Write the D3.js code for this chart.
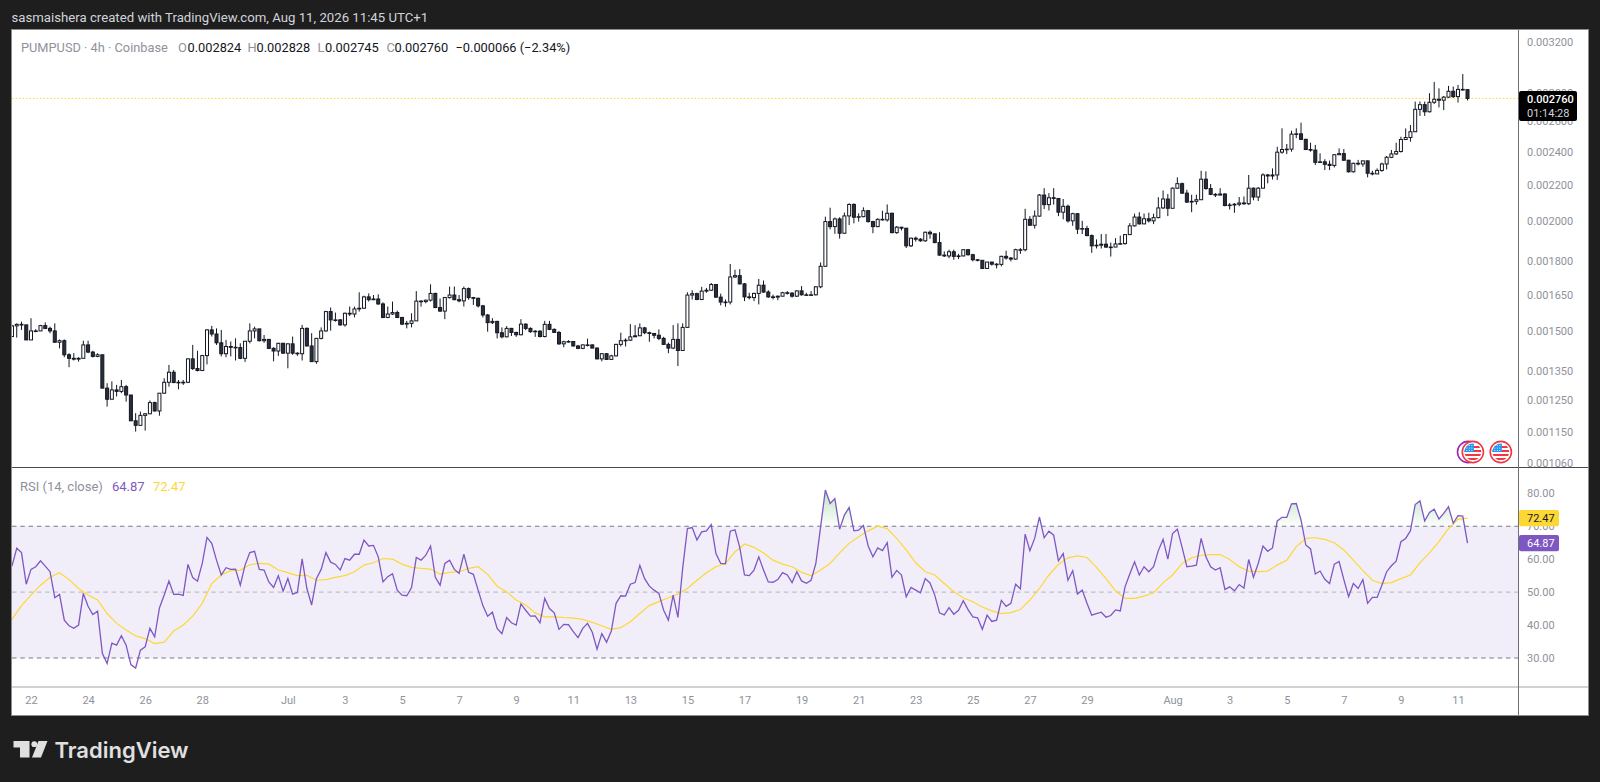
<!DOCTYPE html>
<html>
<head>
<meta charset="utf-8">
<title>PUMPUSD 4h</title>
<script src="https://cdn.jsdelivr.net/npm/d3@7"></script>
<style>
    html, body { margin: 0; padding: 0; background: #1e1e1e; overflow: hidden; }
    text { font-family: Roboto, "Noto Sans", sans-serif; }
</style>
</head>
<body>
<div id="chart"></div>
<script>
// 4h bars, price in millionths of a dollar
const firstOpen = 1478;
const closes = [
    1520,1526,1524,1465,1500,1500,1521,1510,1500,1456,1462,1409,1396,1393,1396,1446,1419,1403,1409,1291,
    1254,1285,1280,1296,1268,1185,1171,1202,1207,1243,1216,1274,1311,1346,1310,1311,1311,1394,1359,1352,
    1406,1504,1488,1454,1413,1440,1437,1436,1396,1460,1500,1508,1462,1467,1433,1423,1452,1415,1450,1415,
    1413,1510,1442,1384,1471,1500,1578,1544,1544,1524,1571,
    1568,1589,1592,1640,1628,1631,1610,1554,1568,1574,1554,1527,1530,1540,1622,1620,1626,1655,1595,1580,
    1637,1648,1628,1623,1676,1637,1634,1602,1564,1533,1538,1493,1477,1510,1494,1485,1527,1510,1497,1499,
    1478,1526,1506,1494,1450,1458,1459,1442,1433,1446,1446,1434,1394,1413,1392,1405,1448,1462,1464,1477,
    1481,1512,1493,1490,1483,1471,1448,1434,1467,1425,1514,1648,
    1654,1629,1665,1669,1694,1639,1618,1618,1728,1734,1697,1640,1637,1655,1691,1661,1640,1639,1643,1658,
    1656,1643,1666,1649,1649,1649,1684,1777,1998,1972,2012,1938,2028,2090,2021,2024,2056,1998,1972,2010,
    2007,2042,1941,1969,1964,1875,1913,1908,1900,1943,1935,1891,1830,1826,1846,1824,1826,1856,1832,1808,
    1805,1767,1797,1787,1786,1824,1816,1811,1856,1856,2010,
    1979,2027,2142,2089,2127,2123,2048,2080,2002,2040,1959,1962,1926,1875,1878,1883,1869,1869,1884,1886,
    1931,1976,2022,1986,2013,2002,2019,2071,2120,2069,2181,2207,2153,2103,2107,2116,2233,2179,2146,2142,
    2148,2084,2087,2091,2098,2094,2181,2131,2181,2258,2252,2258,2397,2414,2416,2513,2515,2479,2414,2410,2334,
    2337,2322,2315,2381,2388,2347,2277,2328,2324,2343,2268,2264,2285,2324,2365,2386,2401,2478,2491,2529,
    2682,2715,2665,2732,2754,2747,2769,2812,2773,2826,2824,2760
];
const highs = [
    1524,1530,1537,1524,1551,1507,1524,1534,1517,1530,1467,1467,1415,1415,1400,1462,1462,1424,1415,1409,
    1308,1314,1302,1319,1302,1268,1209,1214,1209,1250,1246,1274,1325,1372,1354,1319,1319,1396,1446,1424,
    1409,1507,1520,1510,1504,1465,1459,1471,1452,1460,1530,1517,1507,1484,1465,1437,1454,1454,1452,1478,
    1418,1524,1514,1491,1471,1514,1581,1595,1574,1547,1574,
    1599,1599,1660,1645,1655,1648,1651,1617,1599,1620,1582,1554,1540,1571,1665,1626,1628,1695,1658,1633,
    1640,1685,1685,1648,1685,1681,1640,1637,1606,1568,1551,1540,1514,1519,1512,1497,1547,1530,1514,1503,
    1503,1540,1540,1510,1500,1462,1464,1461,1446,1448,1470,1448,1437,1415,1415,1409,1450,1493,1471,1527,
    1523,1530,1516,1497,1490,1506,1477,1455,1523,1530,1530,1660,
    1669,1658,1684,1679,1701,1694,1654,1629,1788,1761,1764,1701,1658,1658,1719,1712,1669,1650,1646,1662,
    1665,1661,1669,1687,1658,1665,1687,1795,2024,2072,2019,2021,2046,2096,2096,2042,2074,2060,2002,2015,
    2056,2090,2046,1975,1969,1958,1916,1921,1913,1946,1952,1935,1943,1848,1856,1856,1836,1859,1859,1836,
    1808,1805,1797,1795,1792,1827,1851,1821,1861,1864,2066,
    2027,2057,2148,2181,2153,2181,2125,2120,2089,2045,2041,2002,1976,1932,1907,1934,1934,1891,1913,1926,
    1934,1990,2040,2048,2041,2045,2040,2130,2168,2148,2185,2244,2213,2172,2144,2144,2283,2279,2205,2153,
    2181,2153,2098,2098,2131,2134,2258,2185,2187,2268,2264,2297,2431,2552,2449,2536,2552,2590,2483,2457,2443,
    2390,2353,2345,2385,2421,2417,2349,2332,2349,2345,2345,2283,2297,2332,2373,2411,2457,2496,2551,2574,
    2737,2737,2737,2798,2882,2834,2778,2852,2847,2859,2942,2828
];
const lows = [
    1478,1474,1504,1465,1465,1495,1504,1507,1491,1456,1433,1400,1364,1388,1384,1396,1415,1399,1400,1291,
    1230,1254,1263,1274,1246,1185,1152,1172,1155,1207,1214,1201,1272,1296,1308,1287,1302,1308,1354,1349,
    1352,1374,1478,1446,1403,1400,1403,1388,1393,1383,1452,1471,1459,1454,1430,1385,1405,1413,1360,1409,
    1405,1388,1440,1384,1376,1467,1497,1501,1537,1520,1517,
    1560,1554,1578,1589,1620,1626,1606,1551,1551,1564,1551,1523,1510,1514,1541,1599,1613,1620,1592,1577,
    1547,1633,1626,1617,1599,1628,1606,1595,1554,1497,1527,1471,1471,1475,1480,1477,1483,1503,1493,1477,
    1475,1475,1503,1493,1446,1437,1455,1440,1430,1430,1440,1434,1392,1385,1390,1394,1403,1440,1440,1461,
    1480,1480,1487,1458,1471,1464,1446,1415,1430,1368,1425,1512,
    1629,1626,1626,1658,1666,1636,1604,1598,1608,1723,1694,1622,1629,1622,1608,1658,1636,1629,1626,1643,
    1650,1637,1640,1646,1646,1646,1646,1678,1780,1958,1935,1911,1936,1980,1989,1998,2021,1993,1938,1969,
    2004,1998,1938,1935,1952,1864,1869,1896,1895,1895,1910,1888,1827,1821,1815,1808,1811,1824,1827,1800,
    1800,1764,1767,1780,1767,1777,1808,1800,1808,1836,1848,
    1976,1962,2024,2065,2057,2089,2027,2010,1993,1976,1934,1934,1923,1841,1862,1862,1865,1823,1869,1881,
    1881,1929,1972,1983,1985,1993,1985,2016,2065,2027,2069,2177,2148,2098,2048,2089,2116,2172,2142,2131,
    2140,2080,2062,2045,2080,2087,2087,2113,2109,2181,2209,2231,2229,2387,2385,2400,2487,2474,2410,2400,2318,
    2332,2287,2287,2303,2384,2343,2272,2272,2315,2307,2244,2256,2270,2277,2291,2360,2380,2395,2474,2464,
    2527,2636,2636,2660,2720,2696,2677,2763,2763,2730,2817,2745
];

// RSI for each bar
const rsiValues = [
    57.9,63.3,62.0,52.4,56.9,57.7,59.5,57.9,56.2,48.3,49.3,41.5,39.8,39.0,40.0,49.6,45.7,43.2,44.2,31.4,
    28.3,34.5,33.9,36.8,33.9,28.0,26.9,32.4,33.4,39.0,36.4,45.2,49.1,53.4,49.3,49.4,49.0,58.4,54.4,53.3,
    58.7,66.6,64.8,59.7,55.2,57.4,56.9,57.0,52.1,58.2,62.0,62.4,56.9,56.7,53.1,51.4,55.0,50.3,54.1,49.4,
    49.9,60.1,51.1,46.1,54.1,56.9,62.0,59.1,58.4,56.7,60.2,59.7,61.5,61.5,65.8,64.0,64.2,60.7,53.1,54.7,
    55.6,50.6,
    49.1,48.9,51.4,60.5,59.7,61.2,64.0,54.5,52.1,58.7,59.7,56.9,55.7,61.5,56.0,55.4,50.6,45.9,42.7,43.9,
    39.0,37.4,42.3,40.7,40.0,46.4,44.5,42.7,42.8,40.7,48.1,45.0,43.7,38.7,40.2,40.1,38.0,36.2,39.0,40.5,
    37.8,32.7,37.4,34.8,38.2,46.6,48.9,48.8,52.4,52.9,58.1,54.1,51.8,50.6,49.6,44.5,41.5,49.1,42.3,57.2,
    69.3,69.6,65.8,68.3,68.6,70.5,61.7,58.7,58.6,68.5,68.9,63.6,55.2,55.0,56.7,60.7,56.7,53.1,53.0,53.8,
    55.9,55.2,52.9,56.2,
    53.4,52.7,53.6,58.7,69.8,81.0,76.9,78.4,69.1,73.4,75.7,68.6,68.8,70.2,64.0,60.7,63.4,62.6,65.0,54.5,
    56.6,55.2,48.6,51.4,50.6,49.8,54.1,52.8,49.1,43.7,43.1,45.3,43.3,44.5,47.4,44.7,42.5,42.2,38.7,43.0,
    41.1,41.5,47.5,45.7,46.6,52.4,51.0,67.6,62.6,66.3,72.8,66.5,68.5,67.3,59.5,61.7,53.6,56.5,49.4,50.6,
    46.6,43.0,43.5,43.9,42.4,42.9,44.6,44.3,51.6,55.5,59.2,55.2,57.7,56.2,57.7,62.6,66.0,60.0,67.8,69.1,
    63.6,57.7,57.9,58.2,66.3,
    60.7,57.7,56.7,57.4,50.8,51.6,50.4,52.3,51.2,59.9,54.5,58.7,64.0,62.4,63.4,71.6,72.7,72.7,76.8,76.9,
    71.9,64.3,63.1,55.5,56.4,53.9,52.6,58.5,59.3,53.8,48.6,52.6,51.1,53.8,46.6,48.4,48.4,52.1,56.2,58.0,
    59.4,65.3,66.3,68.6,76.6,77.7,71.6,74.2,75.2,72.2,73.9,75.9,70.9,73.2,73.1,64.87
];
// RSI moving average, one reading every second bar
const rsiMaValues = [
    41.7,45.9,49.1,52.1,54.5,55.9,53.8,51.1,49.1,47.6,43.5,40.5,38.5,36.7,35.9,34.4,34.8,38.2,40.0,42.7,
    46.6,52.6,55.2,56.5,56.7,58.3,58.7,58.5,56.7,55.9,55.0,55.1,53.6,53.8,54.5,55.0,56.2,58.2,58.9,60.2,
    60.0,58.5,
    57.5,57.2,57.0,55.5,56.0,56.2,57.2,57.7,55.4,51.8,50.1,47.6,46.1,43.7,42.5,42.5,42.3,42.1,41.7,40.8,
    39.8,38.7,39.2,41.0,43.5,45.9,47.1,48.3,49.4,51.1,53.6,55.9,57.7,58.7,62.2,64.6,63.6,61.9,59.7,58.5,57.7,
    56.0,55.0,56.7,58.7,61.9,64.8,66.8,68.6,70.0,69.3,66.3,62.8,58.9,56.2,55.2,52.6,50.1,48.3,47.1,45.5,
    44.3,43.5,43.8,44.7,47.6,51.1,55.2,58.4,60.4,61.0,60.5,57.5,54.1,50.4,48.1,48.1,48.8,49.8,52.8,55.2,
    58.7,60.4,61.2,
    61.4,61.4,59.9,57.7,56.4,56.2,56.4,58.2,59.7,63.8,66.3,66.5,66.0,65.0,62.8,59.7,56.5,53.6,52.6,52.9,
    54.1,55.2,58.9,61.9,65.3,69.3,72.1,72.47
];

const priceTicks = [3200, 2800, 2600, 2400, 2200, 2000, 1800, 1650, 1500, 1350, 1250, 1150, 1060];
const rsiTicks = [80, 70, 60, 50, 40, 30];
const dayTicks = ["2026-06-22","2026-06-24","2026-06-26","2026-06-28","2026-07-01","2026-07-03","2026-07-05",
    "2026-07-07","2026-07-09","2026-07-11","2026-07-13","2026-07-15","2026-07-17","2026-07-19","2026-07-21",
    "2026-07-23","2026-07-25","2026-07-27","2026-07-29","2026-08-01","2026-08-03","2026-08-05","2026-08-07",
    "2026-08-09","2026-08-11"].map(d => new Date(d + "T00:00:00Z"));
const eventDates = ["2026-08-11T08:30:00Z", "2026-08-11T12:30:00Z", "2026-08-12T12:00:00Z"].map(d => new Date(d));
const eventRings = ["#9c27b0", "#f23645", "#f23645"];

const lastPrice = 2760;
const lastRsi = 64.87;
const lastRsiMa = 72.47;

const width = 1600;
const height = 782;
const paneLeft = 12;
const paneRight = 1588;
const axisX = 1518;
const paneTop = 30;
const paneSplit = 467.5;
const paneBottom = 687;
const frameBottom = 715;

const startTime = Date.UTC(2026, 5, 21, 8);
const barDate = i => new Date(startTime + i * 4 * 3600 * 1000);

const svg = d3.select("#chart").append("svg")
    .attr("width", width)
    .attr("height", height)
    .style("display", "block");

const x = d3.scaleUtc()
    .domain([dayTicks[0], dayTicks[dayTicks.length - 1]])
    .range([31, 1458]);
// log price scale, pinned on the 0.003200 and 0.002400 ticks
const y = d3.scaleLog()
    .domain([3200, 2400])
    .range([42, 151.7]);
const yRsi = d3.scaleLinear()
    .domain([80, 30])
    .range([493.3, 658]);

const defs = svg.append("defs");
defs.append("clipPath").attr("id", "priceClip").append("rect")
    .attr("x", paneLeft).attr("y", paneTop).attr("width", axisX - paneLeft).attr("height", paneSplit - paneTop);
defs.append("clipPath").attr("id", "rsiClip").append("rect")
    .attr("x", paneLeft).attr("y", paneSplit).attr("width", axisX - paneLeft).attr("height", paneBottom - paneSplit);
defs.append("clipPath").attr("id", "aboveClip").append("rect")
    .attr("x", paneLeft).attr("y", paneSplit).attr("width", axisX - paneLeft).attr("height", yRsi(70) - paneSplit);
defs.append("clipPath").attr("id", "belowClip").append("rect")
    .attr("x", paneLeft).attr("y", yRsi(30)).attr("width", axisX - paneLeft).attr("height", paneBottom - yRsi(30));

// the screenshot is a bit soft, candles look grey inside because of it
defs.append("filter").attr("id", "soft")
    .attr("filterUnits", "userSpaceOnUse")
    .attr("x", 0).attr("y", 0).attr("width", width).attr("height", height)
    .append("feGaussianBlur").attr("stdDeviation", 0.4);

const greenFade = defs.append("linearGradient")
    .attr("id", "greenFade").attr("gradientUnits", "userSpaceOnUse")
    .attr("x1", 0).attr("x2", 0).attr("y1", yRsi(82)).attr("y2", yRsi(70));
greenFade.append("stop").attr("offset", "0%").attr("stop-color", "rgba(76,175,80,0.38)");
greenFade.append("stop").attr("offset", "100%").attr("stop-color", "rgba(76,175,80,0.02)");
const redFade = defs.append("linearGradient")
    .attr("id", "redFade").attr("gradientUnits", "userSpaceOnUse")
    .attr("x1", 0).attr("x2", 0).attr("y1", yRsi(30)).attr("y2", yRsi(25));
redFade.append("stop").attr("offset", "0%").attr("stop-color", "rgba(255,82,82,0.02)");
redFade.append("stop").attr("offset", "100%").attr("stop-color", "rgba(255,82,82,0.2)");

// Frame
svg.append("rect")
    .attr("x", paneLeft - 0.5).attr("y", paneTop - 0.5)
    .attr("width", paneRight - paneLeft + 1).attr("height", frameBottom - paneTop + 1)
    .attr("fill", "#ffffff").attr("stroke", "#8c8c8c");

// Header line above the frame
svg.append("text")
    .attr("x", 11.5).attr("y", 21.5)
    .attr("fill", "#d1d4dc").attr("font-size", 13.2)
    .text("sasmaishera created with TradingView.com, Aug 11, 2026 11:45 UTC+1");

// Candles
const candleLayer = svg.append("g").attr("clip-path", "url(#priceClip)");

// Last price line
candleLayer.append("line")
    .attr("x1", paneLeft).attr("x2", axisX)
    .attr("y1", y(lastPrice)).attr("y2", y(lastPrice))
    .attr("stroke", "#fdd835").attr("stroke-width", 1).attr("stroke-dasharray", "1.5,2");

const bars = closes.map((c, i) => ({
    date: barDate(i),
    open: i === 0 ? firstOpen : closes[i - 1],
    close: c,
    high: highs[i],
    low: lows[i]
}));

const candles = candleLayer.append("g").attr("filter", "url(#soft)");
candles.selectAll(".wick").data(bars).join("line")
    .attr("class", "wick")
    .attr("x1", d => x(d.date)).attr("x2", d => x(d.date))
    .attr("y1", d => y(Math.max(d.high, d.open, d.close)))
    .attr("y2", d => y(Math.min(d.low, d.open, d.close)))
    .attr("stroke", "#131722").attr("stroke-width", 1);

candles.selectAll(".body").data(bars).join("rect")
    .attr("class", "body")
    .attr("x", d => x(d.date) - 1.5)
    .attr("width", 3)
    .attr("y", d => y(Math.max(d.open, d.close)))
    .attr("height", d => Math.max(0.6, Math.abs(y(d.open) - y(d.close))))
    .attr("fill", d => d.close >= d.open ? "#ffffff" : "#2a2e39")
    .attr("stroke", "#131722").attr("stroke-width", 1);

// Event flags at the bottom of the price pane
const flags = svg.append("g").selectAll("g")
    .data(eventDates.map((d, i) => ({ date: d, ring: eventRings[i] })))
    .join("g")
    .attr("transform", d => `translate(${x(d.date)},452)`);
defs.append("clipPath").attr("id", "flagClip").append("circle").attr("r", 8.4);
flags.append("circle").attr("r", 10.6).attr("fill", "#ffffff").attr("stroke", d => d.ring).attr("stroke-width", 1.6);
const flagInner = flags.filter(d => d.ring !== "#9c27b0").append("g").attr("clip-path", "url(#flagClip)");
flagInner.append("rect").attr("x", -9).attr("y", -9).attr("width", 18).attr("height", 18).attr("fill", "#ffffff");
[-6, -2, 2, 6].forEach(s => {
    flagInner.append("rect").attr("x", -9).attr("y", s).attr("width", 18).attr("height", 2).attr("fill", "#f23645");
});
flagInner.append("rect").attr("x", -9).attr("y", -9).attr("width", 10).attr("height", 9).attr("fill", "#2196f3");
[-6, -3.5, -1].forEach(dx => {
    [-6.5, -4, -1.5].forEach(dy => {
        flagInner.append("circle").attr("cx", dx).attr("cy", dy).attr("r", 0.6).attr("fill", "#ffffff");
    });
});

// RSI pane
const rsiLayer = svg.append("g").attr("clip-path", "url(#rsiClip)");
rsiLayer.append("rect")
    .attr("x", paneLeft).attr("width", axisX - paneLeft)
    .attr("y", yRsi(70)).attr("height", yRsi(30) - yRsi(70))
    .attr("fill", "rgba(126,87,194,0.1)");

const levels = [
    { v: 70, color: "#787b86" },
    { v: 50, color: "#b2b5be" },
    { v: 30, color: "#787b86" }
];
rsiLayer.selectAll(".level").data(levels).join("line")
    .attr("class", "level")
    .attr("x1", paneLeft).attr("x2", axisX)
    .attr("y1", d => yRsi(d.v)).attr("y2", d => yRsi(d.v))
    .attr("stroke", d => d.color).attr("stroke-dasharray", "4.5,3.8");

const rsiPoints = rsiValues.map((v, i) => ({ date: barDate(i), v: v }));
const maPoints = rsiMaValues.map((v, i) => ({ date: barDate(i * 2), v: v }));

rsiLayer.append("path").datum(rsiPoints)
    .attr("clip-path", "url(#aboveClip)")
    .attr("fill", "url(#greenFade)")
    .attr("d", d3.area().x(d => x(d.date)).y0(yRsi(70)).y1(d => yRsi(d.v)));
rsiLayer.append("path").datum(rsiPoints)
    .attr("clip-path", "url(#belowClip)")
    .attr("fill", "url(#redFade)")
    .attr("d", d3.area().x(d => x(d.date)).y0(yRsi(30)).y1(d => yRsi(d.v)));

rsiLayer.append("path").datum(maPoints)
    .attr("fill", "none").attr("stroke", "#fdd835").attr("stroke-width", 1.2)
    .attr("d", d3.line().x(d => x(d.date)).y(d => yRsi(d.v)));
rsiLayer.append("path").datum(rsiPoints)
    .attr("fill", "none").attr("stroke", "#7e57c2").attr("stroke-width", 1.3)
    .attr("d", d3.line().x(d => x(d.date)).y(d => yRsi(d.v)));

// Separators
const lineColor = "#6f7076";
svg.append("line").attr("x1", paneLeft).attr("x2", paneRight).attr("y1", paneSplit).attr("y2", paneSplit)
    .attr("stroke", "#4a4a4f");
svg.append("line").attr("x1", paneLeft).attr("x2", paneRight).attr("y1", paneBottom).attr("y2", paneBottom)
    .attr("stroke", "#a5a5a8");
svg.append("line").attr("x1", axisX + 0.5).attr("x2", axisX + 0.5).attr("y1", paneTop).attr("y2", frameBottom)
    .attr("stroke", lineColor);

// Axes
const labelColor = "#8f929b";
const priceAxis = svg.append("g")
    .attr("transform", `translate(${axisX},0)`)
    .call(d3.axisRight(y)
        .tickValues(priceTicks)
        .tickSize(0)
        .tickPadding(9)
        .tickFormat(d => (d / 1e6).toFixed(6)));
const rsiAxis = svg.append("g")
    .attr("transform", `translate(${axisX},0)`)
    .call(d3.axisRight(yRsi)
        .tickValues(rsiTicks)
        .tickSize(0)
        .tickPadding(9)
        .tickFormat(d => d.toFixed(2)));
const timeAxis = svg.append("g")
    .attr("transform", `translate(0,${paneBottom + 6})`)
    .call(d3.axisBottom(x)
        .tickValues(dayTicks)
        .tickSize(0)
        .tickPadding(3)
        .tickFormat(d => d.getUTCDate() === 1 ? d3.utcFormat("%b")(d) : d.getUTCDate()));
[priceAxis, rsiAxis, timeAxis].forEach(a => {
    a.select(".domain").remove();
    a.selectAll("text")
        .attr("fill", labelColor)
        .style("font-family", "Roboto, sans-serif")
        .style("font-size", "11px");
});

// Last price badge
svg.append("rect")
    .attr("x", axisX + 1).attr("y", 91).attr("width", 58).attr("height", 30).attr("rx", 2)
    .attr("fill", "#000000");
svg.append("text")
    .attr("x", axisX + 9).attr("y", y(lastPrice) + 4.2)
    .attr("fill", "#ffffff").attr("font-size", 11).attr("font-weight", 500)
    .text((lastPrice / 1e6).toFixed(6));
svg.append("text")
    .attr("x", axisX + 9).attr("y", 116.5)
    .attr("fill", "#d1d4dc").attr("font-size", 11)
    .text("01:14:28");

// RSI badges
const rsiBadges = [
    { v: lastRsiMa, fill: "#fdd835", text: "#131722" },
    { v: lastRsi, fill: "#7e57c2", text: "#ffffff" }
];
rsiBadges.forEach(b => {
    svg.append("rect")
        .attr("x", axisX + 1).attr("y", yRsi(b.v) - 8.2).attr("width", 40).attr("height", 16.4).attr("rx", 2)
        .attr("fill", b.fill);
    svg.append("text")
        .attr("x", axisX + 9).attr("y", yRsi(b.v) + 4)
        .attr("fill", b.text).attr("font-size", 11)
        .text(b.v.toFixed(2));
});

// Legends
const grey = "#8f929b";
const ink = "#131722";
const legend = [
    { x: 21, t: "PUMPUSD · 4h · Coinbase", c: grey },
    { x: 178, t: "O", c: grey }, { x: 187.5, t: "0.002824", c: ink },
    { x: 247.5, t: "H", c: grey }, { x: 256.5, t: "0.002828", c: ink },
    { x: 317.5, t: "L", c: grey }, { x: 325, t: "0.002745", c: ink },
    { x: 386.5, t: "C", c: grey }, { x: 394.5, t: "0.002760", c: ink },
    { x: 455.5, t: "−0.000066 (−2.34%)", c: ink }
];
svg.selectAll(".legend").data(legend).join("text")
    .attr("class", "legend")
    .attr("x", d => d.x).attr("y", 52.3)
    .attr("fill", d => d.c).attr("font-size", 12.8)
    .text(d => d.t);

const rsiLegend = [
    { x: 20, t: "RSI (14, close)", c: grey },
    { x: 112, t: lastRsi.toFixed(2), c: "#7e57c2" },
    { x: 153, t: lastRsiMa.toFixed(2), c: "#fdd835" }
];
svg.selectAll(".rsiLegend").data(rsiLegend).join("text")
    .attr("class", "rsiLegend")
    .attr("x", d => d.x).attr("y", 490.5)
    .attr("fill", d => d.c).attr("font-size", 13)
    .text(d => d.t);

// TradingView logo
const logo = svg.append("g").attr("fill", "#e0e0e0");
logo.append("path").attr("d", "M13.5 741H29.5V757.5H20V747.5H13.5Z");
logo.append("circle").attr("cx", 34.3).attr("cy", 744.2).attr("r", 2.9);
logo.append("path").attr("d", "M38.5 741H47.5L41 757.5H32Z");
svg.append("text")
    .attr("x", 54.5).attr("y", 757.5)
    .attr("fill", "#e0e0e0")
    .attr("font-size", 22).attr("font-weight", 600)
    .style("font-family", "Inter, Roboto, sans-serif")
    .text("TradingView");
</script>
</body>
</html>
